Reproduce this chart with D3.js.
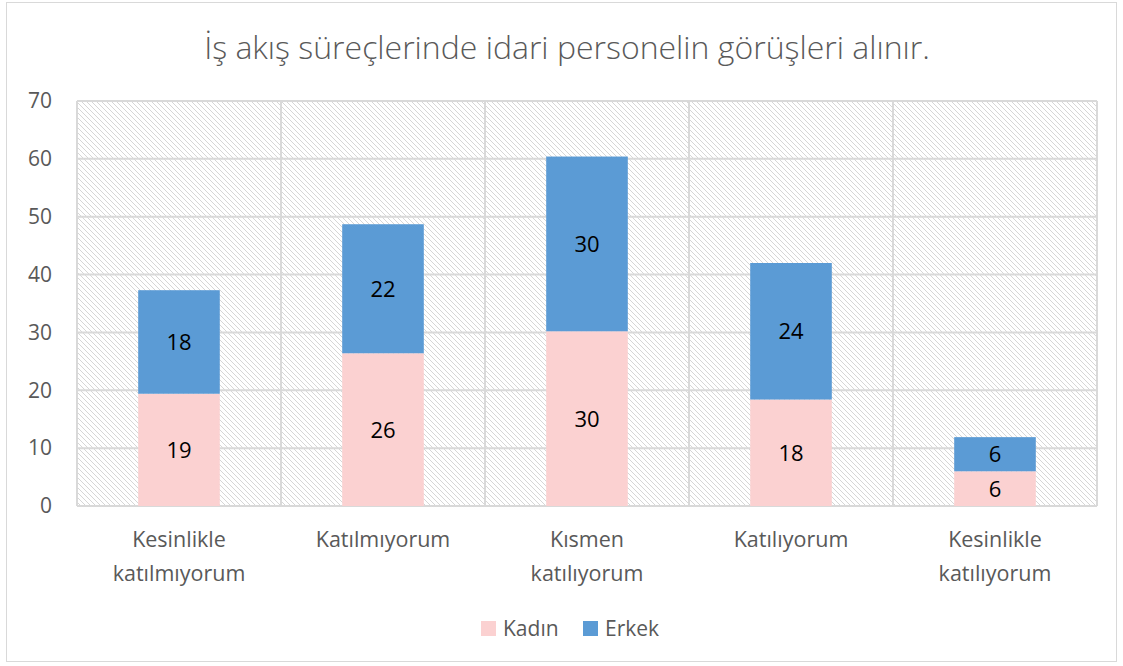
<!DOCTYPE html>
<html>
<head>
<meta charset="utf-8">
<script src="https://cdn.jsdelivr.net/npm/d3@7"></script>
<style>
  body { margin: 0; background: #fff; }
  text { font-family: "Open Sans", "Noto Sans", sans-serif; }
</style>
</head>
<body>
<svg id="chart" width="1123" height="666"></svg>
<script>
// data
categories = [["Kesinlikle", "katılmıyorum"], ["Katılmıyorum"], ["Kısmen", "katılıyorum"], ["Katılıyorum"], ["Kesinlikle", "katılıyorum"]]
kadin = [19.4, 26.4, 30.2, 18.4, 6.0]
erkek = [17.9, 22.3, 30.2, 23.6, 5.9]
seriesNames = ["Kadın", "Erkek"]
seriesColors = ["#fbd1d1", "#5b9bd5"]
yTicks = [0, 10, 20, 30, 40, 50, 60, 70]
title = "İş akış süreçlerinde idari personelin görüşleri alınır."

plotLeft = 77, plotRight = 1097, plotTop = 101, plotBottom = 506

svg = d3.select("#chart")

// outer chart border
svg.append("rect")
    .attr("x", 6.5).attr("y", 2.5)
    .attr("width", 1110).attr("height", 659)
    .attr("fill", "#fff")
    .attr("stroke", "#d9d9d9")

// hatch pattern for plot area
defs = svg.append("defs")
pat = defs.append("pattern")
    .attr("id", "hatch")
    .attr("patternUnits", "userSpaceOnUse")
    .attr("width", 5).attr("height", 5)
pat.append("path")
    .attr("d", "M-1,-1 L6,6 M-1,4 L1,6 M4,-1 L6,1")
    .attr("stroke", "#d6d6d6")
    .attr("stroke-width", 1)

xScale = d3.scaleBand()
    .domain(d3.range(categories.length))
    .range([plotLeft, plotRight])
    .paddingInner(0)

yScale = d3.scaleLinear()
    .domain([0, 70])
    .range([plotBottom, plotTop])

svg.append("rect")
    .attr("x", plotLeft).attr("y", plotTop)
    .attr("width", plotRight - plotLeft).attr("height", plotBottom - plotTop)
    .attr("fill", "url(#hatch)")

// horizontal gridlines
svg.append("g")
    .selectAll("line")
    .data(yTicks)
    .join("line")
    .attr("x1", plotLeft).attr("x2", plotRight)
    .attr("y1", d => yScale(d)).attr("y2", d => yScale(d))
    .attr("stroke", "#d9d9d9")
    .attr("stroke-width", 2)

// vertical gridlines at category boundaries
svg.append("g")
    .selectAll("line")
    .data(d3.range(categories.length + 1))
    .join("line")
    .attr("x1", i => i < categories.length ? xScale(i) : plotRight)
    .attr("x2", i => i < categories.length ? xScale(i) : plotRight)
    .attr("y1", plotTop).attr("y2", plotBottom)
    .attr("stroke", "#d9d9d9")
    .attr("stroke-width", 2)

// stacked bars
stackData = categories.map((c, i) => ({Kadın: kadin[i], Erkek: erkek[i]}))
stacked = d3.stack().keys(seriesNames)(stackData)

barW = xScale.bandwidth() * 0.4

groups = svg.append("g")
    .selectAll("g")
    .data(stacked)
    .join("g")
    .attr("fill", (d, i) => seriesColors[i])

groups.selectAll("rect")
    .data(d => d)
    .join("rect")
    .attr("x", (d, i) => xScale(i) + xScale.bandwidth() / 2 - barW / 2)
    .attr("y", d => yScale(d[1]))
    .attr("width", barW)
    .attr("height", d => yScale(d[0]) - yScale(d[1]))

groups.selectAll("text")
    .data(d => d)
    .join("text")
    .attr("x", (d, i) => xScale(i) + xScale.bandwidth() / 2)
    .attr("y", d => (yScale(d[0]) + yScale(d[1])) / 2)
    .attr("dy", "0.36em")
    .attr("text-anchor", "middle")
    .attr("fill", "#000")
    .attr("font-size", 22)
    .text(d => Math.round(d[1] - d[0]))

// y axis labels
yAxis = svg.append("g")
    .attr("transform", `translate(${plotLeft - 25},0)`)
    .call(d3.axisLeft(yScale).tickValues(yTicks).tickSize(0).tickPadding(0))
yAxis.select(".domain").remove()
yAxis.selectAll("text")
    .attr("font-size", 21)
    .attr("fill", "#595959")
    .style("font-family", "'Open Sans', 'Noto Sans', sans-serif")

// category labels
svg.append("g")
    .selectAll("text")
    .data(categories)
    .join("text")
    .attr("x", (d, i) => xScale(i) + xScale.bandwidth() / 2)
    .attr("y", 547)
    .attr("text-anchor", "middle")
    .attr("font-size", 21.5)
    .attr("fill", "#595959")
    .selectAll("tspan")
    .data(d => d)
    .join("tspan")
    .attr("x", function(){ return this.parentNode.getAttribute("x") })
    .attr("dy", (d, i) => i == 0 ? 0 : 34)
    .text(d => d)

// title
svg.append("text")
    .attr("x", 567)
    .attr("y", 59)
    .attr("text-anchor", "middle")
    .attr("font-size", 32)
    .attr("font-weight", 300)
    .attr("fill", "#595959")
    .text(title)

// legend
legendX = [481, 583]
legend = svg.append("g")
    .selectAll("g")
    .data(seriesNames)
    .join("g")
    .attr("transform", (d, i) => `translate(${legendX[i]},621)`)
legend.append("rect")
    .attr("width", 15).attr("height", 15)
    .attr("fill", (d, i) => seriesColors[i])
legend.append("text")
    .attr("x", 22).attr("y", 15)
    .attr("font-size", 21)
    .attr("fill", "#595959")
    .text(d => d)
</script>
</body>
</html>
